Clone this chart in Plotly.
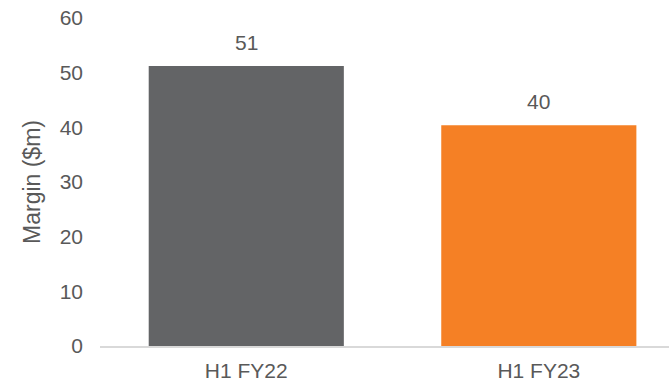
import plotly.graph_objects as go

# Half-year margin figures
periods = ["H1 FY22", "H1 FY23"]
margin_m = [51.2, 40.4]
bar_colors = ["#636466", "#F58025"]

y_ticks = [0, 10, 20, 30, 40, 50, 60]

text_color = "#595959"
font_family = "Arial, Liberation Sans, sans-serif"

fig = go.Figure(
    go.Bar(
        x=periods,
        y=margin_m,
        marker=dict(color=bar_colors, line=dict(width=0)),
        hoverinfo="skip",
    )
)

# Value labels above each bar
for p, v in zip(periods, margin_m):
    fig.add_annotation(
        x=p, y=v, text=f"{v:.0f}", showarrow=False,
        yanchor="bottom", yshift=10,
        font=dict(size=21, color=text_color, family=font_family),
    )

fig.update_layout(
    width=669, height=382,
    margin=dict(l=100, r=0, t=18, b=36),
    paper_bgcolor="white", plot_bgcolor="white",
    bargap=0.333,
    showlegend=False,
    font=dict(family=font_family, size=21, color=text_color),
    xaxis=dict(
        type="category",
        range=[-0.5, 1.445],
        showgrid=False,
        showline=True, linecolor="#D9D9D9", linewidth=1.5,
        ticks="", ticklabelstandoff=5,
        tickfont=dict(size=21, color=text_color),
    ),
    yaxis=dict(
        range=[0, 60],
        tickvals=y_ticks,
        showgrid=False, zeroline=False, showline=False,
        ticks="", ticklabelstandoff=16,
        tickfont=dict(size=21, color=text_color),
        title=dict(text="Margin ($m)", standoff=12,
                   font=dict(size=23, color=text_color)),
    ),
)

fig.write_html("out.html")
